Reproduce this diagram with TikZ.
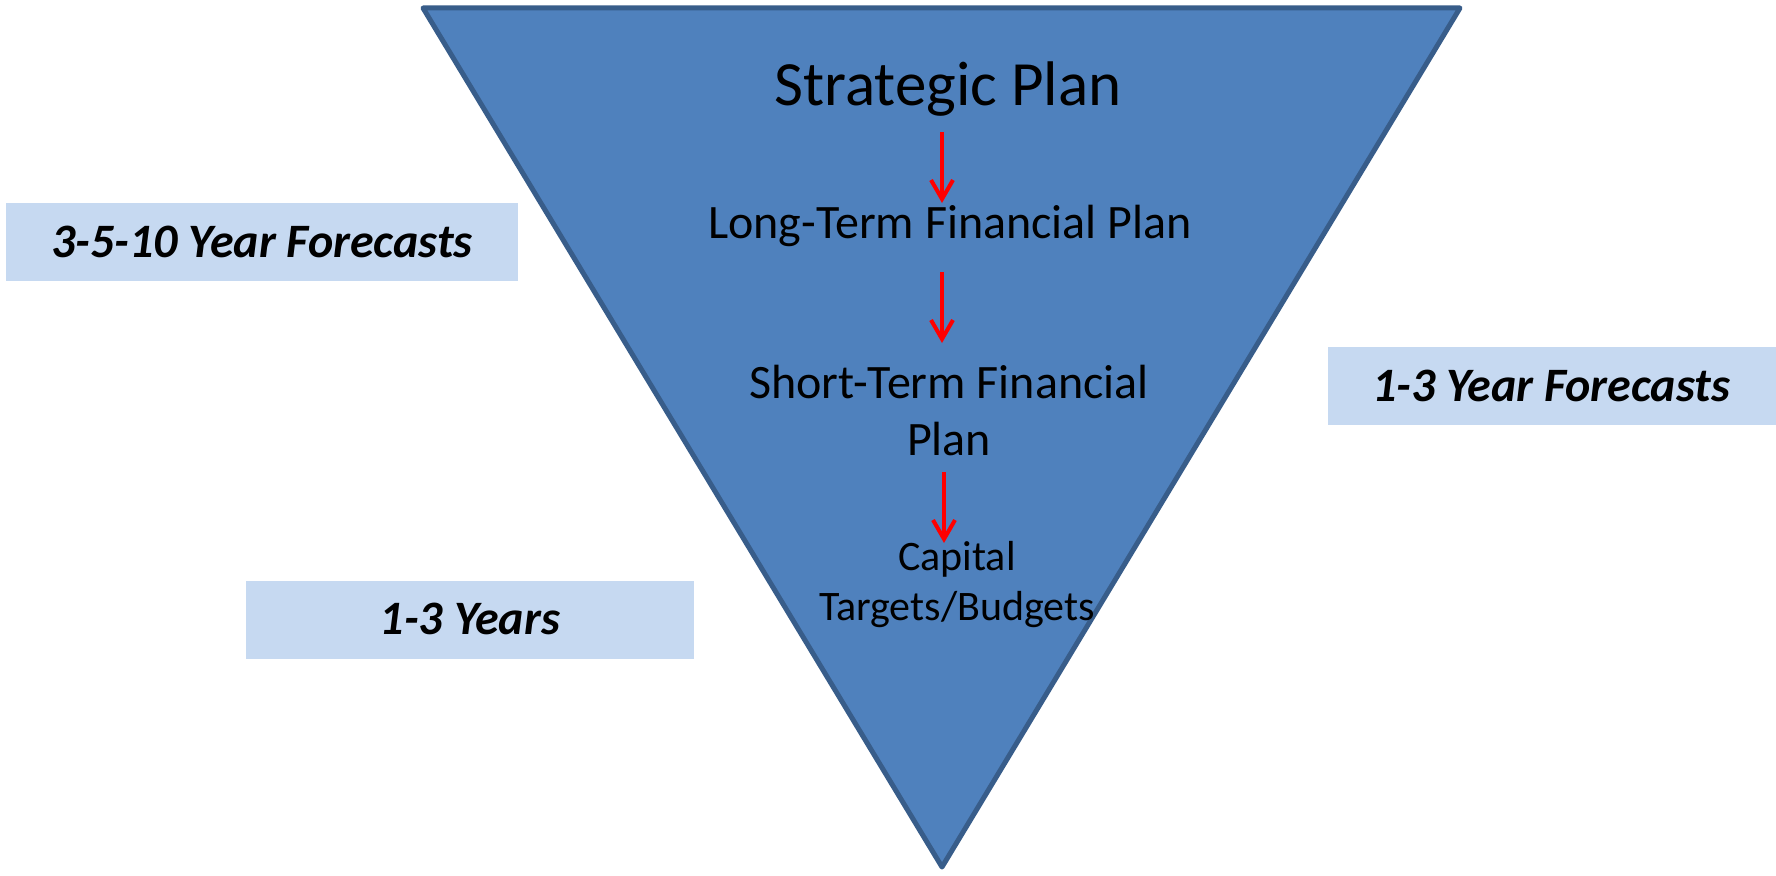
\documentclass[tikz,border=0pt]{standalone}
\usepackage{fontspec}
\setmainfont{Carlito}
\usetikzlibrary{arrows.meta}
\definecolor{trifill}{HTML}{4F81BD}
\definecolor{tridraw}{HTML}{385D8A}
\definecolor{boxfill}{HTML}{C6D9F1}
\definecolor{arrred}{HTML}{FF0000}
\tikzset{
  sidebox/.style={fill=boxfill, draw=none},
  sidetext/.style={font=\fontsize{48}{57}\selectfont\bfseries\itshape, inner sep=0pt, anchor=base},
  midtext/.style={font=\fontsize{48}{57}\selectfont, inner sep=0pt, anchor=base, align=center},
  redarrow/.style={draw=arrred, line width=4pt, -{Straight Barb[length=19pt,width=22pt,line width=4pt]}},
}
\begin{document}
\begin{tikzpicture}[x=1pt,y=-1pt]
\useasboundingbox (0,0) rectangle (1776,875);
\fill[white] (0,0) rectangle (1776,875);
% triangle
\draw[fill=trifill, draw=tridraw, line width=5pt, line join=round] (423,8) -- (1460,8) -- (942,867) -- cycle;
% side boxes
\fill[sidebox] (6,203) rectangle (518,281);
\fill[sidebox] (1328,347) rectangle (1776,425);
\fill[sidebox] (246,581) rectangle (694,659);
\node[sidetext] (b1) at (262,257) {3-5-10 Year Forecasts};
\node[sidetext] (b2) at (1551,401) {1-3 Year Forecasts};
\node[sidetext] (b3) at (470,634) {1-3 Years};
% texts in triangle
\node[midtext, font=\fontsize{63}{76}\selectfont] (sp) at (948,105) {Strategic Plan};
\node[midtext] (lt) at (950,238) {Long-Term Financial Plan};
\node[midtext] (st) at (949,455) {Short-Term Financial\\Plan};
\node[midtext, font=\fontsize{42}{50}\selectfont] (ct) at (957,620) {Capital\\Targets/Budgets};
% arrows
\coordinate (a1s) at (942,132);
\coordinate (a1e) at (942,203);
\coordinate (a2s) at (942,272);
\coordinate (a2e) at (942,343);
\coordinate (a3s) at (944,472);
\coordinate (a3e) at (944,543);
\draw[redarrow] (a1s) -- (a1e);
\draw[redarrow] (a2s) -- (a2e);
\draw[redarrow] (a3s) -- (a3e);
\end{tikzpicture}
\end{document}
